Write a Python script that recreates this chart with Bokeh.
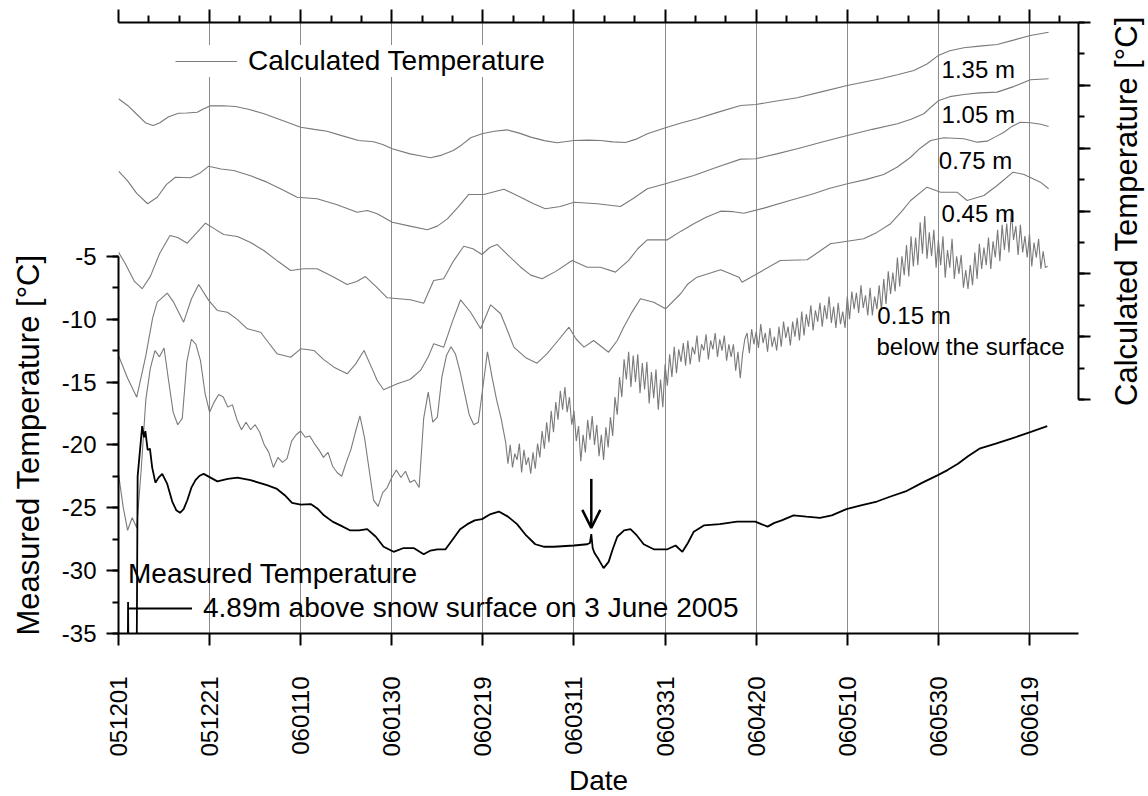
import math

from bokeh.embed import file_html
from bokeh.models import (Arrow, CustomJSTickFormatter, FixedTicker, Label, Legend,
                          LegendItem, LinearAxis, OpenHead, Range1d, SingleIntervalTicker)
from bokeh.plotting import figure
from bokeh.resources import INLINE

FONT = "Liberation Sans"
GRAY = "#7a7a7a"

# ---------------------------------------------------------------- data
# x values are days since 1 December 2005
tick_days = [0, 20, 40, 60, 80, 100, 120, 140, 160, 180, 200]
tick_labels = ["051201", "051221", "060110", "060130", "060219", "060311",
               "060331", "060420", "060510", "060530", "060619"]
temp_ticks = [-35, -30, -25, -20, -15, -10, -5]
temp_tick_labels = ["-35", "-30", "-25", "-20", "-15", "-10", "-5"]

# measured air temperature, 4.89 m above the snow surface [degC]
meas_days = [1.8, 2.0, 2.1, 2.25, 3.95, 4.2, 5.2, 5.6, 5.9, 6.4, 6.9, 7.4, 8.1, 8.8, 9.6,
             10.7, 11.8, 12.7, 13.5, 14.3, 15.1, 16.0, 16.9, 17.8, 18.7, 20.2, 21.7, 24.0,
             26.1, 29.0, 32.6, 34.8, 36.5, 38.1, 40.0, 42.2, 43.8, 45.1, 47.0, 48.7, 50.9,
             52.8, 54.6, 56.5, 58.2, 60.4, 62.6, 64.8, 67.0, 68.5, 70.0, 71.8, 73.6, 75.0,
             76.6, 78.2, 79.8, 81.7, 83.5, 85.5, 87.5, 89.5, 91.5, 93.5, 95.6, 100.0,
             102.9, 103.5, 103.8, 104.1, 104.5, 105.4, 106.5, 107.6, 108.5, 109.5, 111.0,
             112.4, 113.8, 115.3, 117.5, 120.5, 122.3, 123.8, 125.0, 126.3, 128.5, 132.0,
             135.8, 139.8, 142.5, 144.0, 145.6, 148.2, 151.0, 154.0, 156.6, 159.8, 163.0,
             166.5, 169.5, 172.8, 176.5, 179.9, 182.0, 184.3, 186.5, 189.0, 192.6, 196.0,
             200.0, 203.9]
meas_temp = [-40, -40, -32.5, -40, -40, -22.5, -18.5, -19.4, -18.9, -20.4, -20.3, -21.8,
             -23.0, -22.6, -22.3, -23.1, -24.5, -25.2, -25.4, -25.1, -24.4, -23.4, -22.8,
             -22.45, -22.3, -22.6, -22.9, -22.7, -22.6, -22.8, -23.2, -23.5, -24.0, -24.6,
             -24.75, -24.7, -25.1, -25.6, -26.1, -26.4, -26.8, -26.8, -26.7, -27.3, -28.1,
             -28.5, -28.2, -28.2, -28.7, -28.4, -28.3, -28.3, -27.4, -26.7, -26.3, -26.0,
             -25.9, -25.5, -25.3, -25.7, -26.3, -27.2, -27.9, -28.1, -28.1, -28.0, -27.9,
             -27.8, -27.1, -28.2, -28.6, -29.1, -29.8, -29.3, -28.3, -27.3, -26.8, -26.7,
             -27.2, -27.9, -28.3, -28.3, -28.0, -28.5, -27.8, -26.9, -26.4, -26.3, -26.1,
             -26.1, -26.5, -26.2, -26.0, -25.6, -25.7, -25.8, -25.6, -25.1, -24.8, -24.5,
             -24.1, -23.7, -23.0, -22.4, -22.0, -21.5, -20.9, -20.3, -19.9, -19.5, -19.0,
             -18.5]
spike_day = 103.8  # sudden warming marked by the arrow

# calculated snow temperatures (offset curves on the right-hand axis)
d135 = [0, 2, 4, 6, 7.6, 9, 11, 13.2, 15, 17.3, 18.5, 20.2, 23, 25.7, 28.5, 31.8, 36,
        40.0, 43, 45.8, 49, 52.7, 56.0, 58, 60.1, 64, 66.5, 68.5, 71, 73.5, 75.5, 77.3,
        79.8, 82.5, 85.3, 88, 90.5, 93.5, 96.3, 100.0, 103, 105.8, 108.5, 111.3, 113.5,
        116.1, 120.1, 123.5, 127.0, 131.5, 136.6, 139.9, 144.5, 149.0, 154.5, 160.0,
        163.5, 167.3, 171, 174.6, 177.5, 180.1, 182.5, 185.6, 189, 192.9, 196.5, 200.2,
        204.2]
c135 = [-6.07, -6.6, -7.3, -8.0, -8.19, -8.0, -7.5, -7.22, -7.2, -7.14, -6.9, -6.63,
        -6.62, -6.68, -6.9, -7.24, -7.8, -8.33, -8.5, -8.65, -9.0, -9.39, -9.49, -9.7,
        -10.05, -10.45, -10.62, -10.76, -10.55, -10.18, -9.7, -9.17, -8.85, -8.65, -8.54,
        -8.8, -9.12, -9.4, -9.57, -9.39, -9.36, -9.39, -9.5, -9.55, -9.3, -8.85, -8.38,
        -8.0, -7.66, -7.15, -6.60, -6.52, -6.25, -5.99, -5.5, -5.01, -4.75, -4.48, -4.15,
        -3.82, -3.3, -2.60, -2.25, -2.01, -1.88, -1.75, -1.4, -1.03, -0.77]

d105 = [0, 2, 4, 6.4, 8.5, 10.5, 12.5, 15.8, 17.8, 19.8, 22.5, 25.3, 29, 32.6, 36, 39.2,
        43.6, 48, 52.4, 54.6, 56.8, 60.1, 64, 67.8, 70, 72.2, 74.5, 76.9, 80.2, 84.6, 88.3,
        91, 93.7, 97.0, 100.0, 105.1, 110.2, 113, 116.1, 120.1, 126.3, 131.5, 136.6,
        139.9, 144.5, 149.0, 154.5, 160.0, 165.5, 171.0, 174, 176.8, 178.5, 180.1, 182.5,
        185.6, 189, 192.9, 196.5, 200.2, 204.2]
c105 = [-11.83, -12.6, -13.6, -14.42, -13.9, -12.9, -12.31, -12.35, -12.0, -11.43, -11.65,
        -11.77, -12.2, -12.70, -13.3, -13.90, -14.02, -14.5, -15.09, -14.96, -15.22,
        -15.89, -16.2, -16.49, -16.2, -15.62, -14.7, -13.68, -13.68, -13.26, -13.90, -14.4,
        -14.82, -14.64, -14.30, -14.42, -14.64, -14.0, -13.23, -12.83, -12.17, -11.5,
        -10.87, -10.84, -10.45, -10.05, -9.5, -8.99, -8.5, -8.06, -7.7, -7.26, -6.7, -6.20,
        -5.9, -5.73, -5.6, -5.54, -5.1, -4.56, -4.48]

d075 = [0, 1.5, 3.5, 5.2, 7, 9, 11.3, 13, 15.1, 17, 19.1, 21, 23.1, 26.1, 29, 31.9, 35,
        37.8, 40.7, 43.6, 47, 50.2, 52.3, 54.2, 56.5, 59.0, 64.1, 67.0, 68, 69.2, 71.4,
        73.5, 75.8, 77.8, 79.8, 81.5, 83.1, 85.5, 88.3, 90.5, 93.0, 96, 99.6, 102.9,
        105.8, 109.1, 112.0, 114, 116.1, 120.5, 123.5, 126.3, 129, 132.2, 135, 137.3,
        141.7, 147, 152.6, 156, 160.0, 164, 168.0, 171, 173.9, 176, 178.3, 181.2, 185.6,
        188.5, 190.7, 192.5, 194.4, 196, 198.0, 200.2, 202.5, 204.2]
c075 = [-18.27, -19.2, -20.6, -21.18, -20.2, -18.4, -16.94, -17.1, -17.56, -16.8, -15.97,
        -16.4, -16.86, -17.02, -17.5, -18.14, -19.0, -19.73, -19.59, -19.59, -20.2, -20.84,
        -20.6, -20.21, -21.0, -21.90, -22.06, -22.33, -21.5, -20.52, -20.39, -19.0, -17.80,
        -18.0, -18.46, -17.9, -17.66, -18.5, -19.47, -20.1, -20.39, -19.8, -18.93, -19.47,
        -19.47, -19.86, -18.93, -18.0, -17.29, -17.29, -16.6, -16.01, -15.5, -15.01,
        -15.05, -15.17, -14.77, -14.2, -13.63, -13.2, -12.83, -12.5, -12.09, -11.5, -10.72,
        -10.0, -9.39, -9.17, -9.25, -9.52, -9.44, -9.1, -8.73, -8.3, -7.93, -7.98, -8.1,
        -8.27]

d045 = [0, 2, 4.0, 6, 7.5, 8.5, 10.7, 12.1, 14.3, 16, 17.6, 19.8, 21.7, 23.9, 26, 28.3,
        31.2, 33, 34.8, 37.8, 40.0, 42.9, 45, 47.3, 50.2, 52, 53.9, 55.5, 56.8, 58.2, 61.2,
        64, 66.3, 68, 69.2, 71.4, 73.3, 75.1, 77.3, 79.5, 81.7, 83.9, 85.5, 86.8, 89.5,
        91.9, 94.1, 96.5, 98.9, 100.5, 102.2, 104.3, 107.6, 109.5, 110.9, 112.8, 114.6,
        117.5, 120.1, 123.4, 125, 127.0, 132.2, 136.2, 136.9, 140.2, 145.3, 151.2, 156.3,
        160, 163.6, 166.5, 169.5, 172, 173.9, 177.5, 180.5, 184.1, 186.3, 190.0, 192.9,
        196.4, 198.8, 202.4, 204.2]
c045 = [-26.49, -28.3, -29.81, -26.5, -23.5, -22.25, -21.53, -22.25, -23.84, -22.0,
        -20.84, -22.11, -22.91, -23.05, -23.6, -24.37, -24.64, -25.5, -26.35, -26.63,
        -25.96, -26.09, -26.8, -27.42, -27.95, -27.2, -26.09, -27.4, -28.48, -29.22,
        -28.74, -28.4, -27.68, -26.6, -25.56, -25.83, -23.8, -22.06, -23.05, -24.37,
        -22.46, -23.17, -24.6, -25.83, -26.7, -27.10, -26.35, -25.3, -24.24, -25.2,
        -25.83, -25.30, -26.23, -25.3, -24.24, -23.0, -21.98, -22.25, -22.78, -21.58,
        -20.8, -20.26, -19.67, -20.26, -20.66, -19.99, -18.93, -18.88, -17.60, -17.4,
        -17.21, -16.7, -16.01, -15.0, -14.16, -13.10, -13.50, -13.50, -14.16, -13.76,
        -12.97, -11.91, -12.09, -12.70, -13.23]

# 0.15 m: daily values up to day 84, then half-daily values from day 85
c015_daily = [-35.9, -38.5, -40.4, -39.4, -40.2, -35.5, -30.0, -27.5, -26.1, -26.6,
              -25.9, -28.5, -31.0, -32.0, -31.5, -27.0, -25.2, -25.6, -26.9, -29.5,
              -31.0, -30.2, -29.6, -29.8, -30.6, -30.4, -31.6, -32.4, -31.8, -32.4,
              -32.0, -32.6, -33.6, -34.2, -35.4, -34.6, -35.0, -34.7, -33.3, -32.8,
              -32.5, -33.0, -32.9, -33.5, -34.0, -34.6, -34.2, -35.3, -35.8, -36.1,
              -35.0, -34.0, -32.6, -31.3, -33.0, -35.5, -38.0, -38.5, -37.4, -37.0,
              -36.2, -35.6, -36.2, -35.7, -36.6, -36.4, -37.0, -31.5, -29.4, -31.8,
              -31.4, -28.2, -26.5, -25.8, -26.4, -27.8, -29.5, -31.2, -32.0, -31.8,
              -29.0, -26.2, -28.2, -30.0, -31.5]
c015_halfday = [
    -33.4, -35.1, -33.6, -35.4, -34.3, -34.8, -33.5, -35.8, -34.0, -35.2,
    -34.6, -35.9, -34.2, -35.5, -33.5, -34.6, -32.5, -33.9, -31.8, -33.4,
    -30.9, -32.6, -30.2, -31.6, -29.3, -30.8, -29.0, -31.0, -29.8, -32.0,
    -30.9, -33.3, -32.1, -34.9, -32.8, -34.2, -31.6, -33.2, -31.3, -33.6,
    -32.0, -34.5, -32.8, -34.8, -32.2, -33.8, -31.4, -32.9, -29.8, -31.2,
    -28.2, -29.8, -26.8, -28.4, -26.2, -29.0, -26.5, -28.6, -26.4, -29.5,
    -27.1, -29.2, -27.0, -30.3, -27.8, -29.9, -27.6, -30.8, -28.4, -30.6,
    -27.2, -28.9, -26.4, -28.2, -25.8, -27.9, -26.0, -27.0, -25.5, -27.3,
    -25.3, -27.2, -25.8, -26.4, -24.9, -27.0, -25.6, -26.1, -24.8, -26.8,
    -25.3, -26.0, -24.7, -26.6, -25.2, -26.1, -24.9, -26.9, -25.6, -26.6,
    -25.6, -27.7, -26.2, -28.3, -26.4, -25.2, -24.7, -26.3, -24.4, -25.6,
    -24.6, -25.9, -24.0, -25.5, -24.7, -26.2, -24.3, -25.8, -25.0, -26.1,
    -24.2, -25.8, -23.8, -25.1, -24.2, -25.7, -23.8, -25.0, -23.5, -25.3,
    -23.0, -24.9, -23.2, -24.2, -22.5, -24.5, -22.9, -23.8, -22.3, -24.2,
    -22.5, -23.6, -21.8, -23.9, -22.6, -24.3, -22.3, -24.0, -23.0, -24.3,
    -21.8, -23.6, -21.4, -22.8, -21.5, -23.1, -20.9, -22.7, -21.7, -23.3,
    -21.1, -23.3, -21.8, -22.8, -20.9, -22.9, -20.4, -22.4, -19.8, -21.6,
    -19.9, -21.4, -18.7, -21.0, -18.6, -20.1, -17.7, -20.2, -17.0, -19.4,
    -17.1, -19.3, -15.9, -18.4, -15.4, -18.8, -16.7, -18.6, -16.5, -19.5,
    -17.3, -19.3, -17.0, -20.3, -18.1, -19.5, -17.2, -20.4, -18.6, -20.0,
    -18.5, -21.1, -19.7, -21.2, -19.3, -20.9, -18.3, -20.4, -17.6, -19.6,
    -17.9, -19.3, -17.1, -19.6, -17.4, -18.7, -16.5, -19.0, -16.1, -18.1,
    -16.0, -18.3, -15.0, -17.3, -16.2, -18.5, -16.1, -18.3, -17.0, -18.7,
    -16.8, -19.4, -17.5, -18.7, -17.2, -19.6, -18.2, -19.5, -19.4]
d015 = list(range(len(c015_daily))) + [85 + 0.5 * i for i in range(len(c015_halfday))]
c015 = c015_daily + c015_halfday

depth_labels = ["1.35 m", "1.05 m", "0.75 m", "0.45 m", "0.15 m"]

# ---------------------------------------------------------------- figure
p = figure(width=1148, height=796, output_backend="svg", toolbar_location=None,
           x_range=Range1d(0, 210.76), y_range=Range1d(-35, 13.61),
           min_border_left=118, min_border_right=70, min_border_top=22,
           min_border_bottom=163, outline_line_color=None,
           background_fill_color="white", border_fill_color="white")
p.extra_y_ranges = {"calc": Range1d(-48.61, 0)}

calc_style = dict(line_color=GRAY, line_width=1.1, y_range_name="calc")
r135 = p.line(d135, c135, **calc_style)
p.line(d105, c105, **calc_style)
p.line(d075, c075, **calc_style)
p.line(d045, c045, **calc_style)
p.line(d015, c015, **calc_style)
rm = p.line(meas_days, meas_temp, line_color="black", line_width=1.8)

# ---------------------------------------------------------------- axes
def style_axis(ax, major_out, minor_out):
    ax.axis_line_color = "black"
    ax.axis_line_width = 2
    ax.major_tick_line_color = "black"
    ax.minor_tick_line_color = "black"
    ax.major_tick_line_width = 2
    ax.minor_tick_line_width = 2
    ax.major_tick_in = 0
    ax.minor_tick_in = 0
    ax.major_tick_out = major_out
    ax.minor_tick_out = minor_out
    ax.major_label_text_font = FONT
    ax.major_label_text_font_size = "24px"
    ax.major_label_text_color = "black"

bottom = p.xaxis[0]
style_axis(bottom, 12, 0)
bottom.ticker = FixedTicker(ticks=tick_days)
bottom.major_label_overrides = dict(zip(tick_days, tick_labels))
bottom.major_label_orientation = math.pi / 2
bottom.major_label_standoff = 31

left = p.yaxis[0]
style_axis(left, 12, 6)
left.bounds = (-35, -5)
left.ticker = SingleIntervalTicker(interval=5, num_minor_ticks=2)
left.major_label_overrides = dict(zip(temp_ticks, temp_tick_labels))
left.major_label_standoff = 10

blank = CustomJSTickFormatter(code="return ''")
minor_days = [k * 20 / 3 for k in range(1, 32) if k % 3]
top = LinearAxis(ticker=FixedTicker(ticks=tick_days, minor_ticks=minor_days), formatter=blank)
style_axis(top, 13, 7)
top.major_label_text_font_size = "0px"
top.major_label_standoff = 0
p.add_layout(top, "above")

right = LinearAxis(y_range_name="calc", bounds=(-30, 0), formatter=blank,
                   ticker=SingleIntervalTicker(interval=5, num_minor_ticks=2))
style_axis(right, 12, 6)
right.major_label_text_font_size = "0px"
right.major_label_standoff = 0
p.add_layout(right, "right")

p.ygrid.visible = False
p.xgrid.ticker = FixedTicker(ticks=tick_days[1:])
p.xgrid.grid_line_color = "#8c8c8c"
p.xgrid.grid_line_width = 1

# axis titles, placed in the side panels so they are not clipped to the frame
title_font = dict(text_font=FONT, text_color="black", text_align="center",
                  text_baseline="middle")
p.add_layout(Label(x=-19.76, y=-20, text="Measured Temperature [\u00b0C]",
                   angle=math.pi / 2, text_font_size="31px", **title_font), "left")
p.add_layout(Label(x=221.4, y=-15, y_range_name="calc",
                   text="Calculated Temperature [\u00b0C]", angle=math.pi / 2,
                   text_font_size="31px", **title_font), "right")
p.add_layout(Label(x=105.4, y=-46.69, text="Date", text_font_size="28px", **title_font),
             "below")

# depth annotations of the calculated curves
note_font = dict(text_font=FONT, text_font_size="24px", text_color="black",
                 text_baseline="middle", y_range_name="calc")
for lab, xd, yc in zip(depth_labels, [180.7, 180.7, 180.1, 180.7, 166.6],
                       [-3.70, -7.28, -10.98, -15.22, -23.33]):
    p.add_layout(Label(x=xd, y=yc, text=lab, **note_font))
p.add_layout(Label(x=166.4, y=-25.74, text="below the surface", **note_font))

# arrow pointing at the sudden jump of the measured record
spike_val = meas_temp[meas_days.index(spike_day)]
p.add_layout(Arrow(end=OpenHead(size=18, line_width=2.5, line_color="black"),
                   x_start=spike_day, y_start=spike_val + 4.4,
                   x_end=spike_day, y_end=spike_val + 0.5,
                   line_width=2.5, line_color="black"))

# legends
legend_common = dict(label_text_font=FONT, label_text_font_size="28px",
                     label_text_color="black", border_line_color=None, spacing=0,
                     margin=0)
calc_legend = Legend(items=[LegendItem(label="Calculated Temperature", renderers=[r135])],
                     location=(57, 556), padding=4, glyph_width=62, glyph_height=28,
                     label_standoff=11, background_fill_color="white",
                     background_fill_alpha=1, **legend_common)
meas_legend = Legend(items=[LegendItem(label="4.89m above snow surface on 3 June 2005",
                                       renderers=[rm])],
                     title="Measured Temperature", title_text_font=FONT,
                     title_text_font_size="28px", title_text_font_style="normal",
                     title_text_color="black", title_standoff=2,
                     location=(10, 9), padding=2, glyph_width=64, glyph_height=28,
                     label_standoff=11, background_fill_alpha=0, **legend_common)
p.add_layout(calc_legend)
p.add_layout(meas_legend)

open("out.html", "w").write(file_html(p, INLINE))
